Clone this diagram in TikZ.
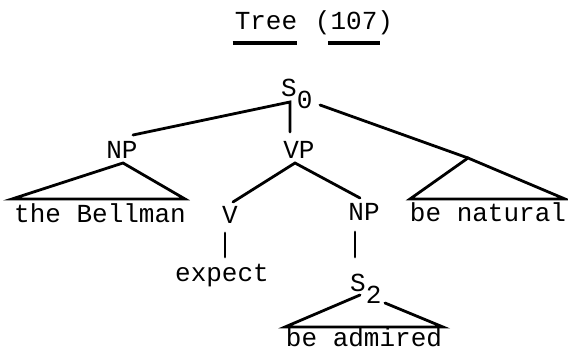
\documentclass[tikz,border=0pt]{standalone}
\usepackage{fontspec}
\setmainfont{Liberation Mono}
\usepackage{tikz}

\tikzset{
  lbl/.style = {anchor = base, inner sep = 0pt, font = \fontsize{26}{28}\selectfont},
  branch/.style = {line width = 2.8pt, line cap = round},
  ul/.style = {line width = 3.4pt}
}
\newcommand{\lowsub}[1]{\raisebox{-0.45em}{#1}}

\begin{document}
\begin{tikzpicture}[x = 1pt, y = -1pt]
\useasboundingbox (0,0) rectangle (568,352);

% title
\node[lbl] (tree) at (266,30) {Tree};
\node[lbl] (num) at (354,30) {(107)};
\draw[ul] ([shift = {(-2,13)}]tree.base west) -- ([shift = {(0,13)}]tree.base east);
\draw[ul] ([shift = {(13,13)}]num.base west) -- ([shift = {(-13,13)}]num.base east);

% labels
\node[lbl, anchor = base west] (s0) at (281,97) {S\lowsub{0}};
\node[lbl] (np1) at (122,159) {NP};
\node[lbl] (vp) at (299,159) {VP};
\node[lbl] (bellman) at (100,223) {the Bellman};
\node[lbl] (v) at (230,224) {V};
\node[lbl] (np2) at (364,221) {NP};
\node[lbl] (natural) at (488,222) {be natural};
\node[lbl] (expect) at (222,282) {expect};
\node[lbl, anchor = base west] (s2) at (350,292) {S\lowsub{2}};
\node[lbl] (admired) at (364,347) {be admired};

% junction points
\coordinate (s0l) at (290,102);
\coordinate (s0r) at (320,105);
\coordinate (np1top) at (133,135);
\coordinate (vptop) at (290,132);
\coordinate (np1apex) at (123,163);
\coordinate (np1bl) at (12,199);
\coordinate (np1br) at (185,199);
\coordinate (vpapex) at (295,163);
\coordinate (vtop) at (233,202);
\coordinate (np2top) at (360,198);
\coordinate (x3) at (468,158);
\coordinate (x3bl) at (410,199);
\coordinate (x3br) at (565,199);
\coordinate (vbot) at (225,233);
\coordinate (expecttop) at (225,257);
\coordinate (np2bot) at (355,232);
\coordinate (s2top) at (355,257);
\coordinate (s2l) at (360,295);
\coordinate (s2r) at (385,303);
\coordinate (s2bl) at (285,327);
\coordinate (s2br) at (443,327);

% branches
\draw[branch] (np1top) -- (s0l) -- (vptop);
\draw[branch] (s0r) -- (x3);
\draw[branch] (np1bl) -- (np1apex) -- (np1br) -- cycle;
\draw[branch] (vtop) -- (vpapex) -- (np2top);
\draw[branch] (x3bl) -- (x3) -- (x3br) -- cycle;
\draw[branch] (vbot) -- (expecttop);
\draw[branch] (np2bot) -- (s2top);
\draw[branch] (s2l) -- (s2bl) -- (s2br) -- (s2r);
\end{tikzpicture}
\end{document}
